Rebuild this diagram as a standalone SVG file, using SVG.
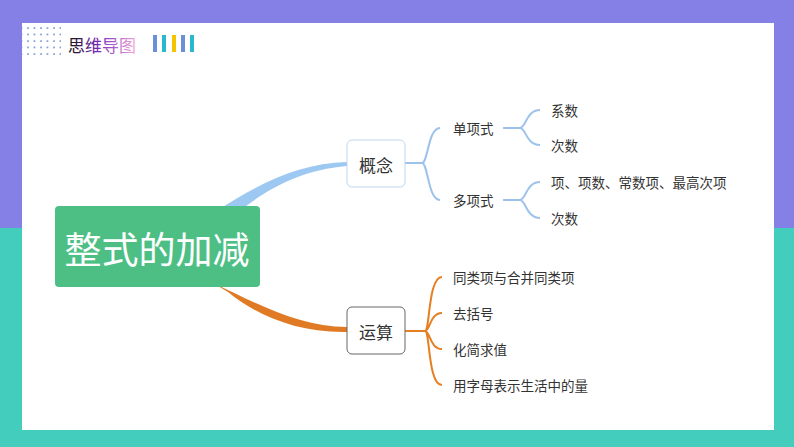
<svg xmlns="http://www.w3.org/2000/svg" width="794" height="447" viewBox="0 0 794 447">
<defs>
<style>
.t{font-family:"Noto Sans CJK SC","Liberation Sans",sans-serif;font-size:13.5px;fill:#333;dominant-baseline:central}
.b{fill:none;stroke:#9DC3EC;stroke-width:2}
.o{fill:none;stroke:#E67E22;stroke-width:2}
</style>
<linearGradient id="tg" x1="0" x2="1"><stop offset="0" stop-color="#111"/><stop offset="0.45" stop-color="#7B2BBF"/><stop offset="1" stop-color="#F0A8D8"/></linearGradient>
<pattern id="dots" width="6.5" height="6.5" patternUnits="userSpaceOnUse"><circle cx="2" cy="2" r="0.9" fill="#5A7FC0"/></pattern>
</defs>
<rect width="794" height="228" fill="#8480E6"/>
<rect y="228" width="794" height="219" fill="#43CDBD"/>
<rect x="22" y="23" width="752" height="407" fill="#fff"/>
<rect x="22" y="23" width="39" height="35" fill="url(#dots)"/>
<text x="68" y="44" font-family="Noto Sans CJK SC,sans-serif" font-size="17" fill="url(#tg)" dominant-baseline="central">思维导图</text>
<g>
<rect x="153" y="35" width="4" height="17" fill="#6B8FD8"/>
<rect x="162" y="35" width="4" height="17" fill="#28B8D0"/>
<rect x="172" y="35" width="4" height="17" fill="#F4C400"/>
<rect x="181" y="35" width="4" height="17" fill="#6B8FD8"/>
<rect x="190" y="35" width="4" height="17" fill="#28B8D0"/>
</g>
<g id="connectors">
<path d="M218 210 C260 183 300 163 347 162 L347 166 C300 170 265 190 236 214 Z" fill="#9DC8F2"/>
<path d="M213 283 C260 305 300 327 347 327 L347 332 C295 333 255 314 228 292 Z" fill="#E07A25"/>
<path class="b" d="M405 163 H422 M422 163 C428 163 428 128 440 128 M422 163 C428 163 428 200 440 200"/>
<path class="b" d="M503 128 H520 M520 128 C526 128 526 110 540 110 M520 128 C526 128 526 145 540 145"/>
<path class="b" d="M503 200 H520 M520 200 C526 200 526 182 540 182 M520 200 C526 200 526 218 540 218"/>
<path class="o" d="M405 331 H425 M425 331 C430 331 428 277 442 277 M425 331 C430 331 430 313 442 313 M425 331 C430 331 430 349 442 349 M425 331 C430 331 428 385 442 385"/>
</g>
<g id="main"><rect x="55" y="206" width="205" height="81" rx="4" fill="#4DBF85"/><text x="157" y="248" text-anchor="middle" font-family="Noto Sans CJK SC,sans-serif" font-size="37" fill="#fff" dominant-baseline="central">整式的加减</text></g>
<g id="gainian"><rect x="347" y="140" width="58" height="47" rx="5" fill="#fff" stroke="#BFD8EE"/><text class="t" x="376" y="164" text-anchor="middle" style="font-size:17px">概念</text></g>
<g id="yunsuan"><rect x="347" y="307" width="58" height="47" rx="5" fill="#fff" stroke="#666"/><text class="t" x="376" y="331" text-anchor="middle" style="font-size:17px">运算</text></g>
<g id="n1"><text class="t" x="453" y="128">单项式</text></g>
<g id="n2"><text class="t" x="453" y="200">多项式</text></g>
<g id="n3"><text class="t" x="551" y="110">系数</text></g>
<g id="n4"><text class="t" x="551" y="145">次数</text></g>
<g id="n5"><text class="t" x="551" y="182">项、项数、常数项、最高次项</text></g>
<g id="n6"><text class="t" x="551" y="218">次数</text></g>
<g id="n7"><text class="t" x="453" y="277">同类项与合并同类项</text></g>
<g id="n8"><text class="t" x="453" y="313">去括号</text></g>
<g id="n9"><text class="t" x="453" y="349">化简求值</text></g>
<g id="n10"><text class="t" x="453" y="385">用字母表示生活中的量</text></g>
</svg>
